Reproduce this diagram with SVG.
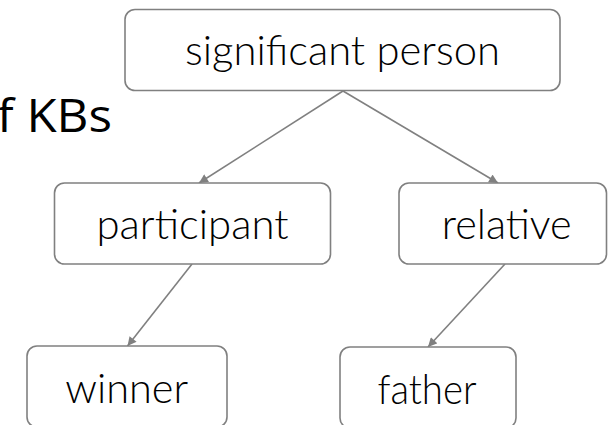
<svg xmlns="http://www.w3.org/2000/svg" width="608" height="425" viewBox="0 0 608 425">
<style>
.box{fill:#ffffff;stroke:#808080;stroke-width:1.6}
.lbl{font-family:Lato,"Open Sans",sans-serif;font-weight:300;font-size:42px;fill:#000000;text-anchor:middle}
.edge{stroke:#808080;stroke-width:1.6;fill:none;marker-end:url(#arr)}
.title{font-family:"Open Sans","Noto Sans",sans-serif;font-size:46px;fill:#000000}
</style>
<defs>
<marker id="arr" viewBox="0 0 10 10" refX="10" refY="5" markerWidth="10" markerHeight="9" markerUnits="userSpaceOnUse" orient="auto">
<path d="M0,0 L10,5 L0,10 z" fill="#808080"/>
</marker>
</defs>
<rect width="608" height="425" fill="#ffffff"/>
<text class="title" x="-3" y="131.5" textLength="115" lengthAdjust="spacingAndGlyphs">f KBs</text>
<g id="connectors">
<line class="edge" x1="343" y1="91" x2="199" y2="183"/>
<line class="edge" x1="343" y1="91" x2="498" y2="183"/>
<line class="edge" x1="192" y1="264" x2="127.5" y2="346"/>
<line class="edge" x1="505" y1="264" x2="428" y2="347"/>
</g>
<g id="significant-person">
<rect class="box" x="125" y="9.5" width="435" height="81" rx="10"/>
<text class="lbl" x="342.5" y="65" textLength="315" lengthAdjust="spacingAndGlyphs">significant person</text>
</g>
<g id="participant">
<rect class="box" x="54.5" y="183" width="276" height="81" rx="10"/>
<text class="lbl" x="192.5" y="239" textLength="192" lengthAdjust="spacingAndGlyphs">participant</text>
</g>
<g id="relative">
<rect class="box" x="399" y="183" width="207.5" height="81" rx="10"/>
<text class="lbl" x="506.7" y="239" textLength="130" lengthAdjust="spacingAndGlyphs">relative</text>
</g>
<g id="winner">
<rect class="box" x="27" y="346" width="200" height="81" rx="10"/>
<text class="lbl" x="126.7" y="402.5" textLength="123" lengthAdjust="spacingAndGlyphs">winner</text>
</g>
<g id="father">
<rect class="box" x="340" y="347" width="176" height="81" rx="10"/>
<text class="lbl" x="427" y="403.5" textLength="99" lengthAdjust="spacingAndGlyphs">father</text>
</g>
</svg>
